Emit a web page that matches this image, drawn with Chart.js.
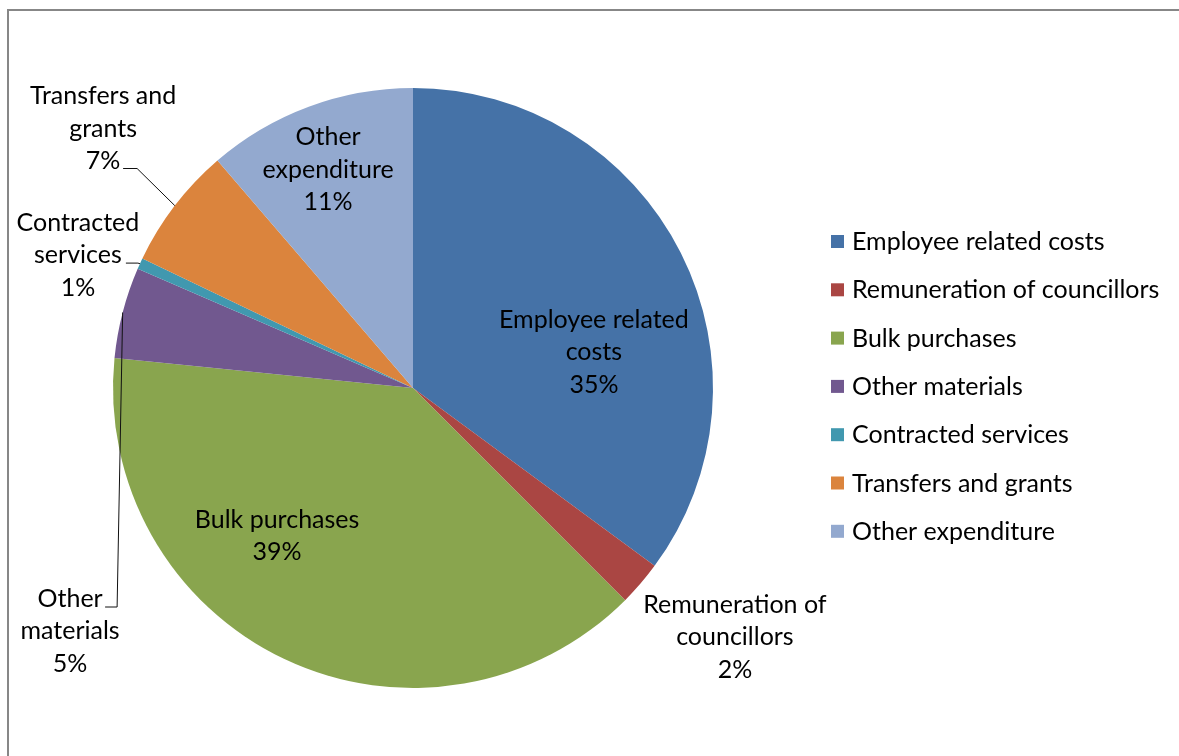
<!DOCTYPE html>
<html>
<head>
<meta charset="utf-8">
<script src="https://cdn.jsdelivr.net/npm/chart.js@4.4.0/dist/chart.umd.min.js"></script>
<style>
  html, body { margin: 0; padding: 0; background: #fff; }
  #wrap { position: relative; width: 1179px; height: 756px; overflow: hidden; }
  #frame { position: absolute; left: 7px; top: 9px; width: 1300px; height: 900px;
           border-left: 2px solid #878787; border-top: 2px solid #878787; }
  #chart { position: absolute; left: 0; top: 0; }
</style>
</head>
<body>
<div id="wrap">
  <div id="frame"></div>
  <canvas id="chart" width="1179" height="756"></canvas>
</div>
<script>
// expenditure split, percent of total
const categories = ['Employee related costs', 'Remuneration of councillors', 'Bulk purchases',
  'Other materials', 'Contracted services', 'Transfers and grants', 'Other expenditure']
const values = [35.1, 2.4, 39.1, 4.9, 0.6, 6.6, 11.3]
const colors = ['#4572A7', '#AA4643', '#89A54E', '#71588F', '#4198AF', '#DB843D', '#93A9CF']

const FONT = '25px Lato'
const LINE_H = 32.5

// label centre as a fraction of the radius from the pie centre, wrap width,
// and for the outside ones the little elbow of the leader line (px from label centre)
const labelPos = [
  { dx: 0.603, dy: -0.12, wrap: 210 },
  { dx: 1.073, dy: 0.83, wrap: 200 },
  { dx: -0.453, dy: 0.493, wrap: 210 },
  { dx: -1.143, dy: 0.81, wrap: 115, leader: { x0: 35, x1: 47, y: -24 } },
  { dx: -1.117, dy: -0.443, wrap: 130, leader: { x0: 48, x1: 60, y: 8 } },
  { dx: -1.033, dy: -0.865, wrap: 160, leader: { x0: 20, x1: 34, y: 40 } },
  { dx: -0.283, dy: -0.727, wrap: 150 }
]

const wrapText = (ctx, text, max) => {
  const words = text.split(' ')
  const lines = []
  let cur = ''
  words.forEach(w => {
    const test = cur ? cur + ' ' + w : w
    if (cur && ctx.measureText(test).width > max) {
      lines.push(cur)
      cur = w
    } else {
      cur = test
    }
  })
  if (cur) lines.push(cur)
  return lines
}

const sliceLabels = {
  id: 'sliceLabels',
  afterDatasetsDraw(chart) {
    const ctx = chart.ctx
    const arcs = chart.getDatasetMeta(0).data
    const total = values.reduce((a, b) => a + b, 0)
    ctx.save()
    ctx.font = FONT
    ctx.fillStyle = '#000'
    ctx.textAlign = 'center'
    ctx.textBaseline = 'middle'
    arcs.forEach((arc, i) => {
      const p = arc.getProps(['x', 'y', 'outerRadius', 'startAngle', 'endAngle'], true)
      const pos = labelPos[i]
      const lx = p.x + pos.dx * p.outerRadius
      const ly = p.y + pos.dy * p.outerRadius
      const lines = wrapText(ctx, categories[i], pos.wrap)
      lines.push(Math.round(values[i] / total * 100) + '%')
      lines.forEach((t, k) => {
        ctx.fillText(t, lx, ly + (k - (lines.length - 1) / 2) * LINE_H)
      })
      if (pos.leader) {
        const mid = (p.startAngle + p.endAngle) / 2
        const ex = p.x + Math.cos(mid) * p.outerRadius
        const ey = p.y + Math.sin(mid) * p.outerRadius
        ctx.beginPath()
        ctx.strokeStyle = '#111'
        ctx.lineWidth = 1
        ctx.moveTo(lx + pos.leader.x0, ly + pos.leader.y)
        ctx.lineTo(lx + pos.leader.x1, ly + pos.leader.y)
        ctx.lineTo(ex, ey)
        ctx.stroke()
      }
    })
    ctx.restore()
  }
}

// legend on the right, drawn by hand so it sits where we want it
const sideLegend = {
  id: 'sideLegend',
  afterDraw(chart) {
    const ctx = chart.ctx
    ctx.save()
    ctx.font = FONT
    ctx.textAlign = 'left'
    ctx.textBaseline = 'middle'
    categories.forEach((c, i) => {
      const y = 242 + i * 48.3
      ctx.fillStyle = colors[i]
      ctx.fillRect(831, y - 7, 13, 13)
      ctx.fillStyle = '#000'
      ctx.fillText(c, 852, y)
    })
    ctx.restore()
  }
}

new Chart(document.getElementById('chart'), {
  type: 'pie',
  data: {
    labels: categories,
    datasets: [{
      data: values,
      backgroundColor: colors,
      borderWidth: 0
    }]
  },
  options: {
    responsive: false,
    animation: false,
    layout: { padding: { left: 113, right: 466, top: 88, bottom: 68 } },
    plugins: {
      legend: { display: false },
      tooltip: { enabled: false }
    }
  },
  plugins: [sliceLabels, sideLegend]
})
</script>
</body>
</html>
